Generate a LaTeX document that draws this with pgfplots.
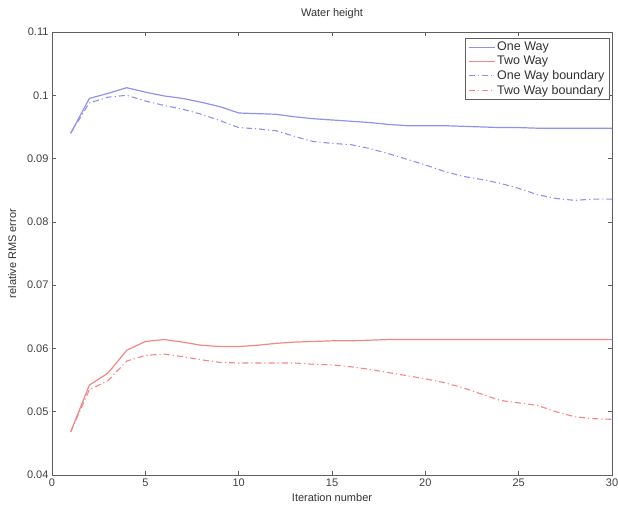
\documentclass[border=0pt]{standalone}
\usepackage{fontspec}
\setmainfont{Liberation Sans}
\usepackage{pgfplots}
\pgfplotsset{compat=1.18}

\definecolor{oneway}{RGB}{145,145,240}
\definecolor{twoway}{RGB}{242,135,135}
\definecolor{frame}{RGB}{95,95,95}

\tikzset{dashdot/.style={dash pattern=on 6pt off 3pt on 1.2pt off 3pt}}

\begin{document}
\begin{tikzpicture}
\path[use as bounding box] (-52pt,-31pt) rectangle (566pt,475pt);
\begin{axis}[
  at={(0pt,0pt)}, anchor=south west,
  scale only axis, width=560pt, height=443pt,
  xmin=0, xmax=30, ymin=0.04, ymax=0.11,
  xtick={0,5,...,30},
  ytick={0.04,0.05,...,0.11},
  scaled y ticks=false,
  yticklabel style={/pgf/number format/.cd, fixed, precision=2},
  /pgf/number format/assume math mode=true,
  tick align=inside,
  major tick length=4pt,
  axis line style={frame, line width=0.8pt},
  tick style={frame, line width=0.6pt},
  font=\fontsize{11}{13}\selectfont,
  ticklabel style={font=\fontsize{11}{13}\selectfont, text=black!75},
  title={Water height},
  title style={at={(axis description cs:0.5,1.027)}, anchor=center, text=black!80},
  xlabel={Iteration number},
  ylabel={relative RMS error},
  xlabel style={at={(axis description cs:0.5,-0.050)}, anchor=center, text=black!80},
  ylabel style={at={(axis description cs:-0.071,0.5)}, anchor=center, text=black!80},
  legend cell align=left,
  legend style={at={(axis description cs:0.996,0.987)}, anchor=north east,
    draw=frame, line width=0.6pt, inner xsep=3pt, inner ysep=2pt, row sep=0pt,
    font=\fontsize{12.5}{14.5}\selectfont, text=black!80},
  legend image code/.code={\draw (0pt,0pt) -- (26pt,0pt);},
  legend image post style={line width=1.2pt},
]
% direct (one way) coupling
\addplot[oneway, line width=1.2pt] coordinates {
 (1,0.0940) (2,0.0995) (3,0.1003) (4,0.1012) (5,0.1005) (6,0.0999)
 (7,0.0995) (8,0.0989) (9,0.0982) (10,0.0972) (11,0.0971) (12,0.0970)
 (13,0.0966) (14,0.0963) (15,0.0961) (16,0.0959) (17,0.0957) (18,0.0954)
 (19,0.0952) (20,0.0952) (21,0.0952) (22,0.0951) (23,0.0950) (24,0.0949)
 (25,0.0949) (26,0.0948) (27,0.0948) (28,0.0948) (29,0.0948) (30,0.0948)};
\addlegendentry{One Way}
% two way coupling
\addplot[twoway, line width=1.2pt] coordinates {
 (1,0.0468) (2,0.0542) (3,0.0561) (4,0.0597) (5,0.0611) (6,0.0614)
 (7,0.0610) (8,0.0605) (9,0.0603) (10,0.0603) (11,0.0605) (12,0.0608)
 (13,0.0610) (14,0.0611) (15,0.0612) (16,0.0612) (17,0.0613) (18,0.0614)
 (19,0.0614) (20,0.0614) (21,0.0614) (22,0.0614) (23,0.0614) (24,0.0614)
 (25,0.0614) (26,0.0614) (27,0.0614) (28,0.0614) (29,0.0614) (30,0.0614)};
\addlegendentry{Two Way}
% one way, boundary points only
\addplot[oneway, line width=1.1pt, dashdot] coordinates {
 (1,0.0940) (2,0.0988) (3,0.0997) (4,0.1000) (5,0.0991) (6,0.0984)
 (7,0.0978) (8,0.0970) (9,0.0960) (10,0.0949) (11,0.0947) (12,0.0944)
 (13,0.0935) (14,0.0927) (15,0.0924) (16,0.0922) (17,0.0916) (18,0.0908)
 (19,0.0899) (20,0.0890) (21,0.0880) (22,0.0872) (23,0.0867) (24,0.0861)
 (25,0.0853) (26,0.0843) (27,0.0837) (28,0.0834) (29,0.0836) (30,0.0836)};
\addlegendentry{One Way boundary}
% two way, boundary points only
\addplot[twoway, line width=1.1pt, dashdot] coordinates {
 (1,0.0468) (2,0.0535) (3,0.0549) (4,0.0580) (5,0.0589) (6,0.0591)
 (7,0.0587) (8,0.0582) (9,0.0578) (10,0.0577) (11,0.0577) (12,0.0577)
 (13,0.0577) (14,0.0575) (15,0.0574) (16,0.0571) (17,0.0567) (18,0.0562)
 (19,0.0557) (20,0.0552) (21,0.0546) (22,0.0538) (23,0.0528) (24,0.0518)
 (25,0.0514) (26,0.0510) (27,0.0500) (28,0.0492) (29,0.0489) (30,0.0488)};
\addlegendentry{Two Way boundary}
\end{axis}
\end{tikzpicture}
\end{document}
